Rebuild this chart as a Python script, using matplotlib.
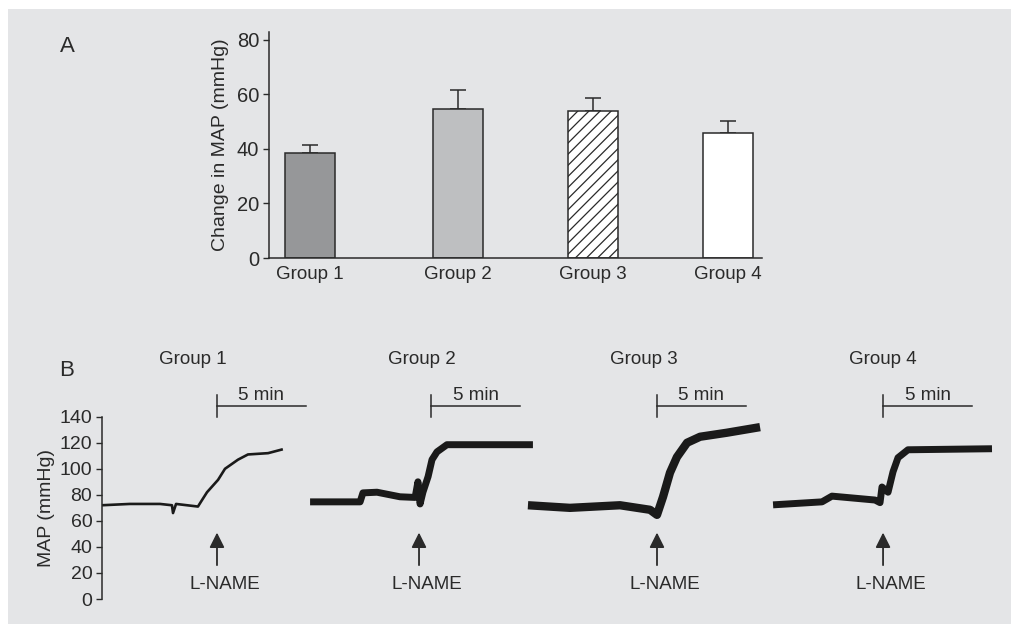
import matplotlib.pyplot as plt
from matplotlib.patches import Rectangle

# --- Panel A: change in MAP (mmHg), mean + SEM
groups = ["Group 1", "Group 2", "Group 3", "Group 4"]
delta_map = [38.5, 54.8, 54.1, 46.0]
delta_sem = [3.0, 6.7, 4.7, 4.4]

# --- Panel B: MAP traces, time in min relative to L-NAME injection
g1_t = [-6.46, -4.9, -3.2, -2.53, -2.47, -2.3, -1.07, -0.84, -0.56, 0.06, 0.45, 1.18, 1.74, 2.87, 3.7]
g1_p = [72, 73, 73, 72, 66, 73, 71, 76, 82, 91.5, 100, 107, 111, 112, 115]
g2_t = [-6.12, -3.31, -3.15, -2.36, -1.07, -0.22, -0.06, 0.06, 0.22, 0.51, 0.73, 1.01, 1.57, 6.4]
g2_p = [74.6, 74.6, 81.5, 82, 78.5, 78, 90, 73, 82, 94, 107, 113, 118.5, 118.5]
g3_t = [-7.25, -4.89, -2.08, -0.39, 0.0, 0.34, 0.73, 1.12, 1.69, 2.42, 3.93, 5.79]
g3_p = [72, 70, 72, 68.5, 64.6, 78.5, 97, 109, 120, 124.6, 127.7, 132]
g4_t = [-6.18, -3.43, -2.87, -0.45, -0.17, -0.06, 0.28, 0.56, 0.84, 1.4, 6.12]
g4_p = [72.3, 74.6, 79, 76, 74, 86, 82, 97.7, 108.5, 114.6, 115.4]
traces_t = [g1_t, g2_t, g3_t, g4_t]
traces_p = [g1_p, g2_p, g3_p, g4_p]
scale_min = 5

# layout / style
BG = "#e4e5e7"
INK = "#2a2a2a"
TRACE = "#1a1a1a"
FONT = "Liberation Sans"
FS = 13.5
TICK_FS = 14.5
bar_x = [-0.1, 1, 2, 3]
bar_face = ["#969799", "#bebfc1", "white", "white"]
bar_hatch = [None, None, "///", None]
inject_at = [6.46, 17.81, 31.18, 43.88]      # panel offsets (min from axis)
bar_shift = [0, 0.7, 0, 0]                  # scale bar offset from arrow
trace_lw = [1.9, 5.0, 6.0, 5.0]

plt.rcParams["font.family"] = [FONT, "DejaVu Sans"]
plt.rcParams["hatch.linewidth"] = 0.9
plt.rcParams["hatch.color"] = INK

fig = plt.figure(figsize=(10.11, 6.24), dpi=100, facecolor="white")
fig.patches.append(Rectangle((8 / 1011, 0), 1, 1 - 9 / 624, transform=fig.transFigure,
                             facecolor=BG, edgecolor="none", zorder=-10))


def style(ax, tick_fs):
    ax.set_facecolor("none")
    for s in ["top", "right"]:
        ax.spines[s].set_visible(False)
    for s in ["bottom", "left"]:
        ax.spines[s].set_color(INK)
        ax.spines[s].set_linewidth(1.1)
    ax.tick_params(colors=INK, labelcolor=INK, labelsize=tick_fs, length=4.5, width=1.0, pad=2.5)


# ---------------- Panel A
axA = fig.add_axes([269 / 1011, 1 - 258 / 624, (762 - 269) / 1011, 226.2 / 624])
style(axA, TICK_FS)
for x, v, fc, h in zip(bar_x, delta_map, bar_face, bar_hatch):
    axA.bar(x, v, width=0.37, color=fc, edgecolor=INK, linewidth=1.1, hatch=h, zorder=2)
axA.errorbar(bar_x, delta_map, yerr=[[0] * 4, delta_sem], fmt="none", ecolor=INK,
             elinewidth=1.1, capsize=6, capthick=1.1, zorder=1)
axA.set_xlim(-0.4, 3.25)
axA.set_ylim(0, 83)
axA.set_yticks([0, 20, 40, 60, 80])
axA.set_xticks(bar_x)
axA.set_xticklabels(groups, fontsize=FS)
axA.tick_params(axis="x", length=0, pad=6)
axA.set_ylabel("Change in MAP (mmHg)", fontsize=14, color=INK, labelpad=6)
fig.text(67 / 1011, 1 - 47 / 624, "A", fontsize=16, color=INK, ha="center", va="center")

# ---------------- Panel B
axB = fig.add_axes([102 / 1011, 1 - 599 / 624, (1000 - 102) / 1011, 182.3 / 624])
style(axB, 14)
axB.spines["bottom"].set_visible(False)
axB.set_xlim(0, 50.45)
axB.set_ylim(0, 140)
axB.set_yticks(range(0, 141, 20))
axB.set_xticks([])
axB.set_ylabel("MAP (mmHg)", fontsize=14, color=INK, labelpad=3)
fig.text(67 / 1011, 1 - 371 / 624, "B", fontsize=16, color=INK, ha="center", va="center")

for i, (tt, pp) in enumerate(zip(traces_t, traces_p)):
    x0 = inject_at[i]
    xs = [x0 + t for t in tt]
    axB.plot(xs, pp, color=TRACE, lw=trace_lw[i], solid_capstyle="butt", clip_on=False)
    # title over the trace
    axB.text((xs[0] + xs[-1]) / 2, 184, groups[i], fontsize=FS, color=INK,
             ha="center", va="center", clip_on=False)
    # 5 min scale bar
    sb = x0 + bar_shift[i]
    axB.plot([sb, sb + scale_min], [148, 148], color=INK, lw=1.1, clip_on=False)
    axB.plot([sb, sb], [140, 157], color=INK, lw=1.1, clip_on=False)
    axB.text(sb + scale_min / 2, 149.5, f"{scale_min} min", fontsize=FS, color=INK,
             ha="center", va="bottom", clip_on=False)
    # L-NAME arrow
    axB.annotate("", xy=(x0, 51), xytext=(x0, 26),
                 arrowprops=dict(arrowstyle="-|>,head_length=0.9,head_width=0.45",
                                 color=INK, lw=1.3, shrinkA=0, shrinkB=0))
    axB.text(x0 + 0.45, 11.5, "L-NAME", fontsize=FS, color=INK, ha="center", va="center")

fig.savefig("out.png", dpi=100, facecolor="white")
